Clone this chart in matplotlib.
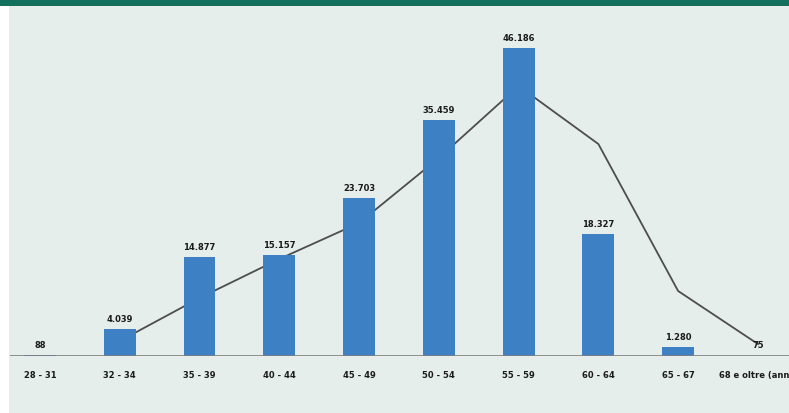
import matplotlib
matplotlib.use("Agg")
import matplotlib.pyplot as plt
from matplotlib.patches import Rectangle

# age classes and counts
categories = ["28 - 31", "32 - 34", "35 - 39", "40 - 44", "45 - 49",
              "50 - 54", "55 - 59", "60 - 64", "65 - 67", "68 e oltre (anni)"]
counts = [88, 4039, 14877, 15157, 23703, 35459, 46186, 18327, 1280, 75]
count_labels = ["88", "4.039", "14.877", "15.157", "23.703",
                "35.459", "46.186", "18.327", "1.280", "75"]
# reference distribution drawn as a line (no value labels)
trend = [None, 2250, 8700, 14550, 19950, 29700, 40500, 31800, 9750, 1800]

BG = "#e5eeeb"
BAR = "#3d80c3"

fig = plt.figure(figsize=(7.89, 4.14), dpi=100)
fig.patch.set_facecolor(BG)

# header band and left white margin
fig.patches.append(Rectangle((0, 1 - 7 / 414), 1, 7 / 414, transform=fig.transFigure,
                             facecolor="#13705c", edgecolor="none", zorder=0))
fig.patches.append(Rectangle((0, 0), 9 / 789, 1 - 7 / 414, transform=fig.transFigure,
                             facecolor="white", edgecolor="none", zorder=0))

ax = fig.add_axes([10 / 789, 57 / 414, 779 / 789, 350 / 414])
ax.set_facecolor(BG)
for s in ax.spines.values():
    s.set_visible(False)

x = list(range(len(categories)))
ax.bar(x, counts, width=0.4, color=BAR, zorder=2)

tx = [i for i, v in zip(x, trend) if v is not None]
ty = [v for v in trend if v is not None]
ax.plot(tx, ty, color="#4d4d4d", lw=1.3, zorder=1)

for i, (v, lab) in enumerate(zip(counts, count_labels)):
    ax.text(i, v + 900, lab, ha="center", va="bottom", fontsize=6,
            fontweight="bold", color="#1a1a1a", zorder=3)

ax.axhline(0, color="#7f7f7f", lw=1.2, zorder=3)
ax.set_xlim(-0.376, 9.39)
ax.set_ylim(0, 52500)
ax.set_yticks([])
ax.set_xticks(x)
ax.set_xticklabels(categories, fontsize=6, fontweight="bold", color="#1a1a1a")
ax.tick_params(axis="x", length=0, pad=10)

fig.savefig("out.png", dpi=100, facecolor=fig.get_facecolor())
